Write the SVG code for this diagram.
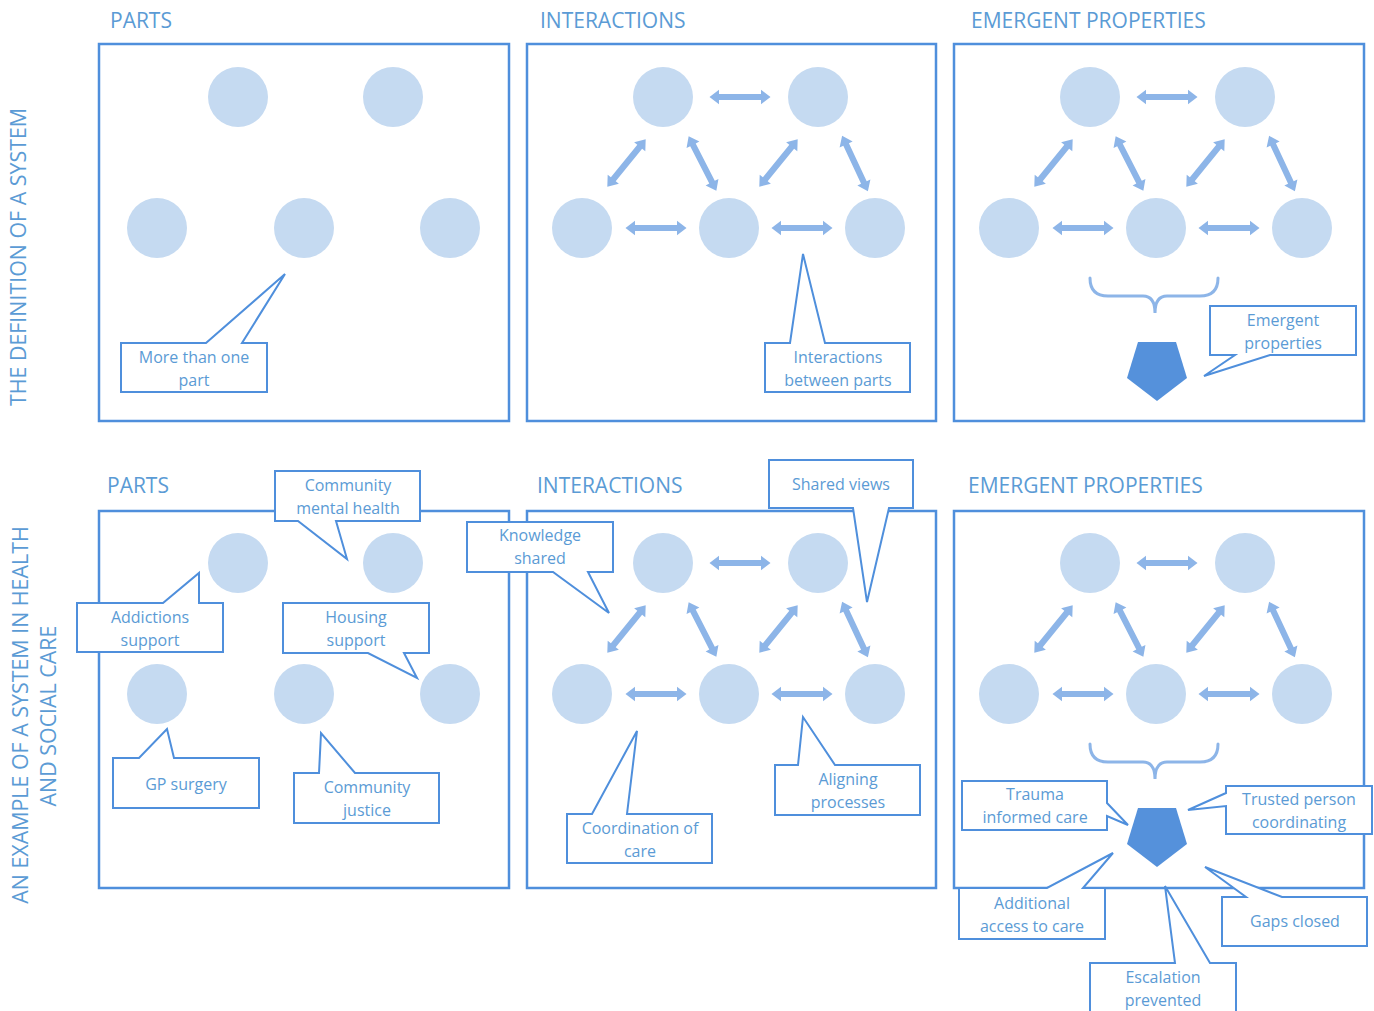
<svg xmlns="http://www.w3.org/2000/svg" xmlns:xlink="http://www.w3.org/1999/xlink" width="1374" height="1011" viewBox="0 0 1374 1011">
  <style>
    .txt { font-family: "Open Sans", "Liberation Sans", sans-serif; fill: #5B9BD5; }
    .head { font-size: 21px; }
    .side { font-size: 21.4px; text-anchor: middle; }
    .lbl { font-size: 16px; text-anchor: middle; }
    .panel { fill: none; stroke: #4F8FDC; stroke-width: 2.5; }
    .part { fill: #C5DAF1; }
    .link { fill: #8DB5E8; }
    .brace { fill: none; stroke: #8DB5E8; stroke-width: 3; stroke-linecap: round; }
    .emerge { fill: #5591DB; }
    .callout { fill: #FFFFFF; stroke: #4F8FDC; stroke-width: 2; stroke-linejoin: miter; }
  </style>
  <defs>
    <!-- double-headed block arrow, centred on the origin -->
    <path id="dbl" d="M-30.5,0 L-21,-7.2 L-21,-3.1 L21,-3.1 L21,-7.2 L30.5,0 L21,7.2 L21,3.1 L-21,3.1 L-21,7.2 Z"/>
    <!-- five parts laid out on two rows -->
    <g id="parts">
      <circle cx="0" cy="0" r="30"/>
      <circle cx="155" cy="0" r="30"/>
      <circle cx="-81" cy="131" r="30"/>
      <circle cx="66" cy="131" r="30"/>
      <circle cx="212" cy="131" r="30"/>
    </g>
    <!-- interaction arrows between the five parts -->
    <g id="links">
      <use xlink:href="#dbl" transform="translate(77,0)"/>
      <use xlink:href="#dbl" transform="translate(-7,131)"/>
      <use xlink:href="#dbl" transform="translate(139,131)"/>
      <use xlink:href="#dbl" transform="translate(-36.5,66) rotate(-51)"/>
      <use xlink:href="#dbl" transform="translate(39.5,66.5) rotate(63)"/>
      <use xlink:href="#dbl" transform="translate(115.5,66) rotate(-51)"/>
      <use xlink:href="#dbl" transform="translate(192,66.5) rotate(65)"/>
    </g>
    <!-- brace and emergent shape -->
    <g id="emergent">
      <path class="brace" d="M-67,181 Q-67,199 -49,199 H-14 Q-2,199 -2,216 Q-2,199 10,199 H43 Q61,199 61,181"/>
      <polygon class="emerge" points="-19,245 19,245 30,281 0,304 -30,281"/>
    </g>
  </defs>

  <!-- row labels -->
  <g id="row-labels">
    <text class="txt side" transform="translate(26,257) rotate(-90)">THE DEFINITION OF A SYSTEM</text>
    <text class="txt side" transform="translate(28,715) rotate(-90)">AN EXAMPLE OF A SYSTEM IN HEALTH</text>
    <text class="txt side" transform="translate(56,716) rotate(-90)">AND SOCIAL CARE</text>
  </g>

  <!-- column headings -->
  <g id="headings">
    <text class="txt head" x="110" y="28">PARTS</text>
    <text class="txt head" x="540" y="28">INTERACTIONS</text>
    <text class="txt head" x="971" y="28">EMERGENT PROPERTIES</text>
    <text class="txt head" x="107" y="493">PARTS</text>
    <text class="txt head" x="537" y="493">INTERACTIONS</text>
    <text class="txt head" x="968" y="493">EMERGENT PROPERTIES</text>
  </g>

  <!-- panels -->
  <g id="panels">
    <rect id="panel-parts" class="panel" x="99" y="44" width="410" height="377"/>
    <rect id="panel-interactions" class="panel" x="527" y="44" width="409" height="377"/>
    <rect id="panel-emergent" class="panel" x="954" y="44" width="410" height="377"/>
    <rect id="panel-parts-example" class="panel" x="99" y="511" width="410" height="377"/>
    <rect id="panel-interactions-example" class="panel" x="527" y="511" width="409" height="377"/>
    <rect id="panel-emergent-example" class="panel" x="954" y="511" width="410" height="377"/>
  </g>

  <!-- parts -->
  <g id="nodes" class="part">
    <use id="parts-1" xlink:href="#parts" transform="translate(238,97)"/>
    <use id="parts-2" xlink:href="#parts" transform="translate(663,97)"/>
    <use id="parts-3" xlink:href="#parts" transform="translate(1090,97)"/>
    <use id="parts-4" xlink:href="#parts" transform="translate(238,563)"/>
    <use id="parts-5" xlink:href="#parts" transform="translate(663,563)"/>
    <use id="parts-6" xlink:href="#parts" transform="translate(1090,563)"/>
  </g>

  <!-- connectors -->
  <g id="connectors" class="link">
    <use xlink:href="#links" transform="translate(663,97)"/>
    <use xlink:href="#links" transform="translate(1090,97)"/>
    <use xlink:href="#links" transform="translate(663,563)"/>
    <use xlink:href="#links" transform="translate(1090,563)"/>
  </g>

  <!-- emergent properties -->
  <g id="emergent-top"><use xlink:href="#emergent" transform="translate(1157,97)"/></g>
  <g id="emergent-bottom"><use xlink:href="#emergent" transform="translate(1157,563)"/></g>

  <!-- callouts -->
  <g id="callout-more-than-one-part">
    <path class="callout" d="M121,343 H206 L285,274 L242,343 H267 V392 H121 Z"/>
    <text class="txt lbl" x="194" y="363">More than one</text>
    <text class="txt lbl" x="194" y="386">part</text>
  </g>
  <g id="callout-interactions-between-parts">
    <path class="callout" d="M765,343 H790 L803,254 L825,343 H910 V392 H765 Z"/>
    <text class="txt lbl" x="838" y="363">Interactions</text>
    <text class="txt lbl" x="838" y="386">between parts</text>
  </g>
  <g id="callout-emergent-properties">
    <path class="callout" d="M1210,306 H1356 V355 H1270 L1204,376 L1235,355 H1210 Z"/>
    <text class="txt lbl" x="1283" y="326">Emergent</text>
    <text class="txt lbl" x="1283" y="349">properties</text>
  </g>

  <g id="callout-community-mental-health">
    <path class="callout" d="M275,471 H420 V521 H336 L347,559 L298,521 H275 Z"/>
    <text class="txt lbl" x="348" y="491">Community</text>
    <text class="txt lbl" x="348" y="514">mental health</text>
  </g>
  <g id="callout-addictions-support">
    <path class="callout" d="M77,603 H163 L199,573 V603 H223 V652 H77 Z"/>
    <text class="txt lbl" x="150" y="623">Addictions</text>
    <text class="txt lbl" x="150" y="646">support</text>
  </g>
  <g id="callout-housing-support">
    <path class="callout" d="M283,603 H429 V653 H404 L417,678 L368,653 H283 Z"/>
    <text class="txt lbl" x="356" y="623">Housing</text>
    <text class="txt lbl" x="356" y="646">support</text>
  </g>
  <g id="callout-gp-surgery">
    <path class="callout" d="M113,758 H139 L167,729 L174,758 H259 V808 H113 Z"/>
    <text class="txt lbl" x="186" y="790">GP surgery</text>
  </g>
  <g id="callout-community-justice">
    <path class="callout" d="M294,773 H319 L321,733 L355,773 H439 V823 H294 Z"/>
    <text class="txt lbl" x="367" y="793">Community</text>
    <text class="txt lbl" x="367" y="816">justice</text>
  </g>

  <g id="callout-knowledge-shared">
    <path class="callout" d="M467,522 H613 V572 H588 L609,613 L553,572 H467 Z"/>
    <text class="txt lbl" x="540" y="541">Knowledge</text>
    <text class="txt lbl" x="540" y="564">shared</text>
  </g>
  <g id="callout-shared-views">
    <path class="callout" d="M769,460 H913 V508 H889 L867,602 L853,508 H769 Z"/>
    <text class="txt lbl" x="841" y="490">Shared views</text>
  </g>
  <g id="callout-coordination-of-care">
    <path class="callout" d="M567,814 H592 L637,731 L627,814 H712 V863 H567 Z"/>
    <text class="txt lbl" x="640" y="834">Coordination of</text>
    <text class="txt lbl" x="640" y="857">care</text>
  </g>
  <g id="callout-aligning-processes">
    <path class="callout" d="M775,765 H798 L803,717 L835,765 H920 V815 H775 Z"/>
    <text class="txt lbl" x="848" y="785">Aligning</text>
    <text class="txt lbl" x="848" y="808">processes</text>
  </g>

  <g id="callout-trauma-informed-care">
    <path class="callout" d="M962,781 H1107 V803 L1128,825 L1107,816 V830 H962 Z"/>
    <text class="txt lbl" x="1035" y="800">Trauma</text>
    <text class="txt lbl" x="1035" y="823">informed care</text>
  </g>
  <g id="callout-trusted-person">
    <path class="callout" d="M1226,786 H1372 V834 H1226 V806 L1188,810 L1226,793 Z"/>
    <text class="txt lbl" x="1299" y="805">Trusted person</text>
    <text class="txt lbl" x="1299" y="828">coordinating</text>
  </g>
  <g id="callout-additional-access">
    <path class="callout" d="M959,888 H1047 L1113,853 L1083,888 H1105 V939 H959 Z"/>
    <text class="txt lbl" x="1032" y="909">Additional</text>
    <text class="txt lbl" x="1032" y="932">access to care</text>
  </g>
  <g id="callout-gaps-closed">
    <path class="callout" d="M1222,897 H1246 L1205,867 L1282,897 H1367 V946 H1222 Z"/>
    <text class="txt lbl" x="1295" y="927">Gaps closed</text>
  </g>
  <g id="callout-escalation-prevented">
    <path class="callout" d="M1090,963 H1175 L1165,886 L1210,963 H1236 V1020 H1090 Z"/>
    <text class="txt lbl" x="1163" y="983">Escalation</text>
    <text class="txt lbl" x="1163" y="1006">prevented</text>
  </g>
</svg>
